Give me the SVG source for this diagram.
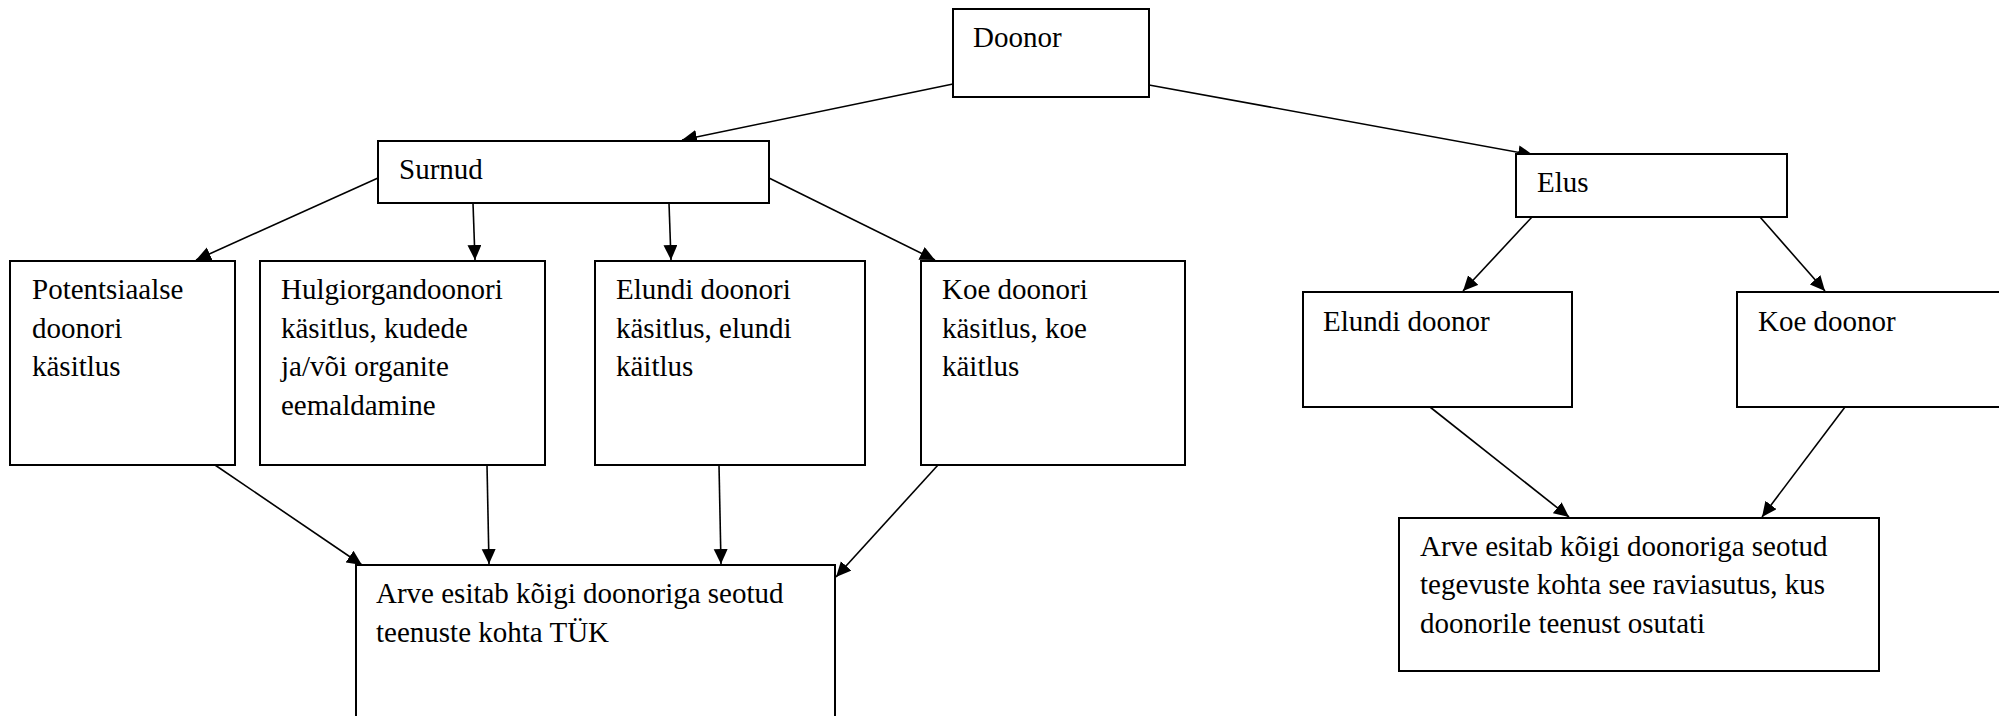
<svg xmlns="http://www.w3.org/2000/svg" width="1999" height="716" viewBox="0 0 1999 716">
<style>
.box{fill:#fff;stroke:#000;stroke-width:2}
.t{font-family:"Liberation Serif","Times New Roman",serif;font-size:29px;fill:#000}
.c{stroke:#000;stroke-width:1.6;fill:none;marker-end:url(#ah)}
</style>
<defs>
<marker id="ah" markerUnits="userSpaceOnUse" markerWidth="16" markerHeight="15" refX="15" refY="7" orient="auto" viewBox="0 0 16 15">
<path d="M0,0 L15,7 L0,14 z" fill="#000"/>
</marker>
</defs>
<rect width="1999" height="716" fill="#fff"/>
<g id="connectors">
<line class="c" x1="953" y1="84" x2="682" y2="140"/>
<line class="c" x1="1149" y1="85" x2="1533" y2="155"/>
<line class="c" x1="378" y1="178" x2="196" y2="260"/>
<line class="c" x1="473" y1="203" x2="475" y2="260"/>
<line class="c" x1="669" y1="203" x2="671" y2="260"/>
<line class="c" x1="769" y1="178" x2="935" y2="260"/>
<line class="c" x1="215" y1="465" x2="362" y2="565"/>
<line class="c" x1="487" y1="465" x2="489" y2="564"/>
<line class="c" x1="719" y1="465" x2="721" y2="564"/>
<line class="c" x1="938" y1="465" x2="836" y2="577"/>
<line class="c" x1="1532" y1="217" x2="1463" y2="291"/>
<line class="c" x1="1760" y1="217" x2="1825" y2="291"/>
<line class="c" x1="1430" y1="407" x2="1569" y2="517"/>
<line class="c" x1="1845" y1="407" x2="1762" y2="517"/>
</g>
<g id="doonor">
<rect class="box" x="953" y="9" width="196" height="88"/>
<text class="t" x="973" y="47">Doonor</text>
</g>
<g id="surnud">
<rect class="box" x="378" y="141" width="391" height="62"/>
<text class="t" x="399" y="179">Surnud</text>
</g>
<g id="elus">
<rect class="box" x="1516" y="154" width="271" height="63"/>
<text class="t" x="1537" y="192">Elus</text>
</g>
<g id="potentsiaalse">
<rect class="box" x="10" y="261" width="225" height="204"/>
<text class="t" x="32" y="299">Potentsiaalse</text>
<text class="t" x="32" y="338">doonori</text>
<text class="t" x="32" y="376">käsitlus</text>
</g>
<g id="hulgiorgandoonori">
<rect class="box" x="260" y="261" width="285" height="204"/>
<text class="t" x="281" y="299">Hulgiorgandoonori</text>
<text class="t" x="281" y="338">käsitlus, kudede</text>
<text class="t" x="281" y="376">ja/või organite</text>
<text class="t" x="281" y="415">eemaldamine</text>
</g>
<g id="elundi-doonori">
<rect class="box" x="595" y="261" width="270" height="204"/>
<text class="t" x="616" y="299">Elundi doonori</text>
<text class="t" x="616" y="338">käsitlus, elundi</text>
<text class="t" x="616" y="376">käitlus</text>
</g>
<g id="koe-doonori">
<rect class="box" x="921" y="261" width="264" height="204"/>
<text class="t" x="942" y="299">Koe doonori</text>
<text class="t" x="942" y="338">käsitlus, koe</text>
<text class="t" x="942" y="376">käitlus</text>
</g>
<g id="elundi-doonor">
<rect class="box" x="1303" y="292" width="269" height="115"/>
<text class="t" x="1323" y="331">Elundi doonor</text>
</g>
<g id="koe-doonor">
<rect class="box" x="1737" y="292" width="280" height="115"/>
<text class="t" x="1758" y="331">Koe doonor</text>
</g>
<g id="arve-tyk">
<rect class="box" x="356" y="565" width="479" height="200"/>
<text class="t" x="376" y="603">Arve esitab kõigi doonoriga seotud</text>
<text class="t" x="376" y="642">teenuste kohta TÜK</text>
</g>
<g id="arve-raviasutus">
<rect class="box" x="1399" y="518" width="480" height="153"/>
<text class="t" x="1420" y="556">Arve esitab kõigi doonoriga seotud</text>
<text class="t" x="1420" y="594">tegevuste kohta see raviasutus, kus</text>
<text class="t" x="1420" y="633">doonorile teenust osutati</text>
</g>
</svg>
